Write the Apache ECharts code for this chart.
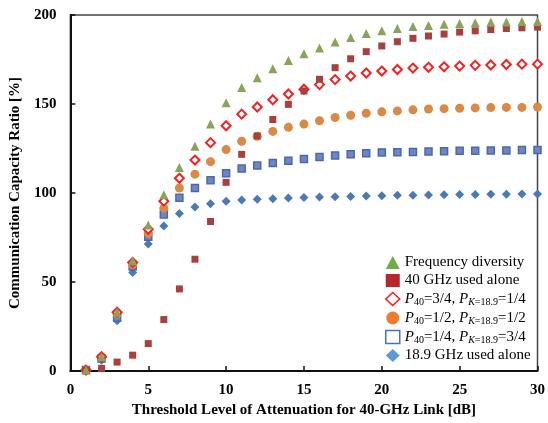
<!DOCTYPE html>
<html>
<head>
<meta charset="utf-8">
<script src="https://cdn.jsdelivr.net/npm/echarts@6/dist/echarts.min.js"></script>
<style>
  html, body { margin: 0; padding: 0; background: #fff; }
  #chart { width: 548px; height: 423px; }
</style>
</head>
<body>
<div id="chart"></div>
<script>
// threshold level [dB]
const thresholds = [1,2,3,4,5,6,7,8,9,10,11,12,13,14,15,16,17,18,19,20,21,22,23,24,25,26,27,28,29,30];

// capacity ratio [%]
const freqDiversity = [0.5,8,33,62,82,99,114.3,126.3,138.7,150.7,159.3,164.8,169.8,174.4,178.2,181.5,184.8,187.4,189.6,191.1,192.4,193.5,194.1,194.8,195.2,195.6,195.9,196.1,196.3,196.3];
const ghz40Alone = [0.2,1.5,5,8.9,15.4,28.9,46.1,62.8,84,106,121.7,132,141.3,149.8,157.3,163.9,170.4,175.4,179.4,182.6,185,186.9,188.2,189.3,190.4,191.1,191.8,192.4,192.8,193.2];
const p34 = [0.5,8,33,61,79.6,95.4,108.3,118.5,128.3,137.8,144.3,148.3,152.4,155.6,158.3,160.9,163.7,165.7,167.4,168.5,169.4,170.2,170.6,170.9,171.3,171.7,171.9,172.2,172.4,172.4];
const p12 = [0.5,7.8,32,59.8,77.4,91.5,102.8,110.6,117.6,124.4,129.1,131.9,134.6,136.9,138.7,140.6,142.4,143.7,144.8,145.6,146.1,146.7,147.2,147.4,147.6,147.8,148,148.1,148.1,148.3];
const p14 = [0.5,7,30,58.7,75.4,87.9,97.3,102.8,107.2,111.1,113.7,115.4,116.9,118.1,119.1,120.2,121.1,121.8,122.4,122.8,122.9,123.1,123.3,123.5,123.7,123.7,123.9,123.9,124.1,124.1];
const ghz189Alone = [0.5,6,28.3,55.4,71.3,81.5,88.5,92.2,94,95.4,96.1,96.5,96.8,97.2,97.5,97.7,97.9,98.1,98.3,98.5,98.7,98.8,98.9,99,99.1,99.2,99.3,99.3,99.4,99.4];

const seriesNames = ['Frequency diversity', '40 GHz used alone', 'P34', 'P12', 'P14', '18.9 GHz used alone'];
const legendLabels = {
    'Frequency diversity': '{n|Frequency diversity}',
    '40 GHz used alone': '{n|40 GHz used alone}',
    'P34': '{i|P}{s|40}{n|=3/4, }{i|P}{si|K}{s|=18.9}{n|=1/4}',
    'P12': '{i|P}{s|40}{n|=1/2, }{i|P}{si|K}{s|=18.9}{n|=1/2}',
    'P14': '{i|P}{s|40}{n|=1/4, }{i|P}{si|K}{s|=18.9}{n|=3/4}',
    '18.9 GHz used alone': '{n|18.9 GHz used alone}'
};

const serif = '"Liberation Serif", "Times New Roman", serif';

function pairs(values) {
    return thresholds.map((t, i) => [t, values[i]]);
}

const chart = echarts.init(document.getElementById('chart'));

const option = {
    animation: false,
    grid: {
        left: 70, right: 7, top: 15, bottom: 48,
        show: true,
        borderColor: '#444',
        borderWidth: 1.5
    },
    xAxis: {
        type: 'value',
        min: 0, max: 30, interval: 5,
        name: 'Threshold Level of Attenuation for 40-GHz Link [dB]',
        nameLocation: 'middle',
        nameGap: 32,
        nameTextStyle: { fontFamily: serif, fontWeight: 'bold', fontSize: 15, color: '#000' },
        axisLine: { lineStyle: { color: '#111', width: 2 } },
        axisTick: { inside: true, length: 5, lineStyle: { color: '#111', width: 1.5 } },
        axisLabel: { fontFamily: serif, fontWeight: 'bold', fontSize: 15, color: '#000', margin: 12 },
        splitLine: { show: false }
    },
    yAxis: {
        type: 'value',
        min: 0, max: 200, interval: 50,
        name: 'Communication Capacity Ratio [%]',
        nameLocation: 'middle',
        nameGap: 41,
        nameTextStyle: { fontFamily: serif, fontWeight: 'bold', fontSize: 15, color: '#000' },
        axisLine: { show: true, lineStyle: { color: '#111', width: 2 } },
        axisTick: { show: true, inside: true, length: 5, lineStyle: { color: '#111', width: 1.5 } },
        axisLabel: { fontFamily: serif, fontWeight: 'bold', fontSize: 15, color: '#000', margin: 14 },
        splitLine: { show: false }
    },
    legend: {
        orient: 'vertical',
        left: 380,
        top: 250,
        itemWidth: 14,
        itemHeight: 13,
        itemGap: 3,
        selectedMode: false,
        formatter: (name) => legendLabels[name],
        textStyle: {
            rich: {
                n: { fontFamily: serif, fontSize: 15, color: '#000', lineHeight: 18 },
                i: { fontFamily: serif, fontSize: 15, fontStyle: 'italic', color: '#000', lineHeight: 18 },
                s: { fontFamily: serif, fontSize: 10, color: '#000', lineHeight: 12, padding: [6, 0, 0, 0] },
                si: { fontFamily: serif, fontSize: 10, fontStyle: 'italic', color: '#000', lineHeight: 12, padding: [6, 0, 0, 0] }
            }
        },
        data: [
            { name: seriesNames[0], icon: 'triangle', itemStyle: { color: '#70AD47' } },
            { name: seriesNames[1], icon: 'rect', itemStyle: { color: '#B8262B' } },
            { name: seriesNames[2], icon: 'diamond', itemStyle: { color: '#fff', borderColor: '#FF1A1A', borderWidth: 1.5 } },
            { name: seriesNames[3], icon: 'circle', itemStyle: { color: '#ED7D31' } },
            { name: seriesNames[4], icon: 'rect', itemStyle: { color: '#fff', borderColor: '#4472C4', borderWidth: 1.5 } },
            { name: seriesNames[5], icon: 'diamond', itemStyle: { color: '#5B9BD5' } }
        ]
    },
    series: [
        {
            name: seriesNames[5], type: 'scatter', data: pairs(ghz189Alone),
            symbol: 'diamond', symbolSize: 9,
            itemStyle: { color: '#4A7AB5', opacity: 1 }
        },
        {
            name: seriesNames[4], type: 'scatter', data: pairs(p14),
            symbol: 'rect', symbolSize: 7,
            itemStyle: { color: '#7186BE', borderColor: '#4A68AE', borderWidth: 1.5, opacity: 1 }
        },
        {
            name: seriesNames[3], type: 'scatter', data: pairs(p12),
            symbol: 'circle', symbolSize: 9,
            itemStyle: { color: '#D98A45', opacity: 1 }
        },
        {
            name: seriesNames[2], type: 'scatter', data: pairs(p34),
            symbol: 'diamond', symbolSize: 9,
            itemStyle: { color: '#fff', borderColor: '#F22222', borderWidth: 2, opacity: 1 }
        },
        {
            name: seriesNames[1], type: 'scatter', data: pairs(ghz40Alone),
            symbol: 'rect', symbolSize: 7,
            itemStyle: { color: '#A8403F', opacity: 1 }
        },
        {
            name: seriesNames[0], type: 'scatter', data: pairs(freqDiversity),
            symbol: 'triangle', symbolSize: 9,
            itemStyle: { color: '#8BA25A', opacity: 1 }
        }
    ]
};

chart.setOption(option);
</script>
</body>
</html>
